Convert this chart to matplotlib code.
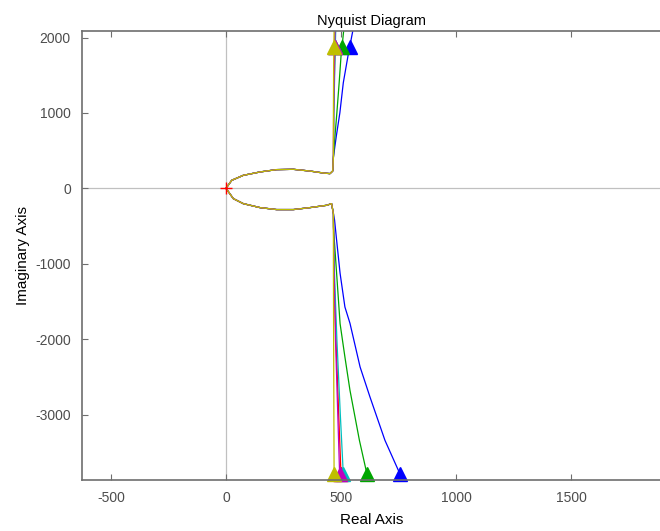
import numpy as np
import matplotlib.pyplot as plt

plt.rcParams['font.family'] = ['Liberation Sans', 'DejaVu Sans']
plt.rcParams['axes.unicode_minus'] = False

# common lobe near the origin (real, imag)
lobe_up_re = [0, 25, 75, 148, 220, 293, 365, 423, 452, 464, 467]
lobe_up_im = [0, 106, 172, 217, 248, 252, 229, 203, 195, 230, 415]
lobe_dn_re = [0, 32, 75, 148, 220, 293, 365, 438, 459, 467]
lobe_dn_im = [0, -137, -203, -256, -282, -282, -256, -225, -203, -336]

# tails going up (positive imag) per series
blue_up_re = [480, 495, 510, 530, 552]
blue_up_im = [700, 1000, 1400, 1750, 2100]
green_up_re = [474, 482, 492, 500, 512]
green_up_im = [700, 1000, 1400, 1750, 2100]
red_up_re = [468, 472, 476]
red_up_im = [1000, 1600, 2100]
cyan_up_re = [469, 473, 477]
cyan_up_im = [1000, 1600, 2100]
mag_up_re = [468, 471, 474]
mag_up_im = [1000, 1600, 2100]
yel_up_re = [467, 468, 470]
yel_up_im = [1000, 1600, 2100]

# tails going down (negative imag) per series
blue_dn_re = [472, 481, 496, 517, 539, 583, 626, 691, 757, 790]
blue_dn_im = [-420, -690, -1127, -1574, -1790, -2370, -2768, -3342, -3793, -3950]
green_dn_re = [467, 481, 496, 517, 539, 580, 613, 625]
green_dn_im = [-513, -1132, -1795, -2237, -2679, -3342, -3793, -3950]
red_dn_re = [469, 478, 490, 500, 503]
red_dn_im = [-1000, -2000, -3000, -3793, -3950]
cyan_dn_re = [470, 482, 497, 510, 513]
cyan_dn_im = [-1000, -2000, -3000, -3793, -3950]
mag_dn_re = [469, 476, 486, 494, 497]
mag_dn_im = [-1000, -2000, -3000, -3793, -3950]
yel_dn_re = [467, 468, 469, 470, 470]
yel_dn_im = [-1000, -2000, -3000, -3793, -3950]

# arrow positions (real, imag)
top_arrow_re = [540, 504, 473, 474, 472, 468]
top_arrow_im = [1870, 1870, 1870, 1870, 1870, 1870]
bot_arrow_re = [757, 613, 500, 510, 494, 470]
bot_arrow_im = [-3793, -3793, -3793, -3793, -3793, -3793]

series = [
    ((0, 0, 1), blue_up_re, blue_up_im, blue_dn_re, blue_dn_im),
    ((0, 0.65, 0), green_up_re, green_up_im, green_dn_re, green_dn_im),
    ((1, 0, 0), red_up_re, red_up_im, red_dn_re, red_dn_im),
    ((0, 0.75, 0.75), cyan_up_re, cyan_up_im, cyan_dn_re, cyan_dn_im),
    ((0.75, 0, 0.75), mag_up_re, mag_up_im, mag_dn_re, mag_dn_im),
    ((0.75, 0.75, 0), yel_up_re, yel_up_im, yel_dn_re, yel_dn_im),
]

fig = plt.figure(figsize=(6.6, 5.31), dpi=100)
ax = fig.add_axes([0.1242, 0.0960, 0.8773, 0.8447])

ax.axhline(0, color='#c0c0c0', lw=0.9, zorder=0)
ax.axvline(0, color='#c0c0c0', lw=0.9, zorder=0)

for i, (c, ure, uim, dre, dim) in enumerate(series):
    re = dre[::-1] + lobe_dn_re[::-1] + lobe_up_re[1:] + ure
    im = dim[::-1] + lobe_dn_im[::-1] + lobe_up_im[1:] + uim
    ax.plot(re, im, color=c, lw=0.9)
    ax.plot(top_arrow_re[i], top_arrow_im[i], marker='^', ms=10, color=c,
            mec=c, clip_on=False)
    ax.plot(bot_arrow_re[i], bot_arrow_im[i], marker='^', ms=10, color=c,
            mec=c, clip_on=False)

ax.plot(-1, 0, '+', color='r', ms=8, mew=1)

ax.set_xlim(-626, 1891)
ax.set_ylim(-3869, 2080)
ax.set_xticks([-500, 0, 500, 1000, 1500])
ax.set_yticks([-3000, -2000, -1000, 0, 1000, 2000])

for s in ax.spines.values():
    s.set_color('#6e6e6e')
    s.set_linewidth(1.2)
ax.spines['right'].set_visible(False)
ax.tick_params(direction='in', length=4, width=0.8, color='#6e6e6e',
               labelcolor='#4d4d4d', labelsize=10, top=True, right=False, pad=8)

ax.set_title('Nyquist Diagram', fontsize=10.5, color='k', pad=5)
ax.set_xlabel('Real Axis', fontsize=11, labelpad=6)
ax.set_ylabel('Imaginary Axis', fontsize=11, labelpad=4)

fig.savefig('out.png', dpi=100)
